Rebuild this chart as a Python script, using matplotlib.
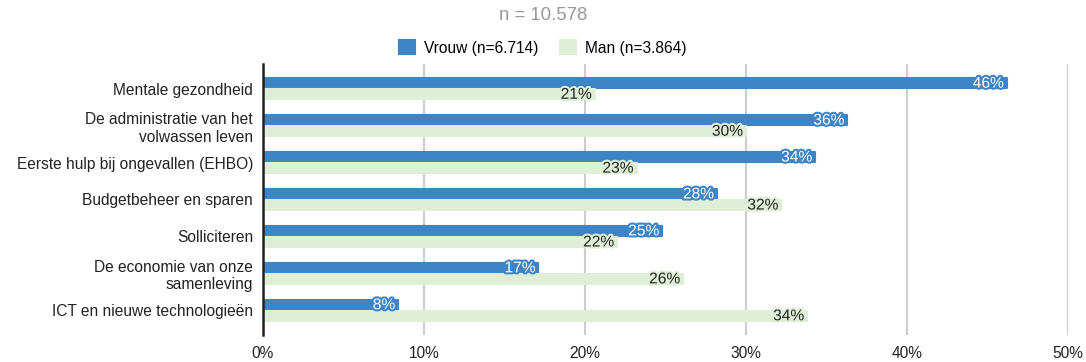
import matplotlib.pyplot as plt
import matplotlib.patheffects as pe
import numpy as np

plt.rcParams['font.family'] = ['Liberation Sans', 'DejaVu Sans']

categories = ['Mentale gezondheid', 'De administratie van het\nvolwassen leven',
              'Eerste hulp bij ongevallen (EHBO)', 'Budgetbeheer en sparen',
              'Solliciteren', 'De economie van onze\nsamenleving', 'ICT en nieuwe technologieën']
vrouw = [46.2, 36.3, 34.3, 28.2, 24.8, 17.1, 8.4]
man = [20.6, 30.0, 23.2, 32.2, 22.0, 26.1, 33.8]
vrouw_lbl = ['46%', '36%', '34%', '28%', '25%', '17%', '8%']
man_lbl = ['21%', '30%', '23%', '32%', '22%', '26%', '34%']
xticks = [0, 10, 20, 30, 40, 50]

blue = '#3d85c6'
green = '#dfeed6'
fs = 11.2

fig = plt.figure(figsize=(10.86, 3.62), dpi=100)
ax = fig.add_axes([263/1086, 1-335/362, (1068-263)/1086, (335-64)/362])

y = np.arange(len(categories))
h = 0.26
ax.barh(y - 0.15, vrouw, height=h, color=blue, edgecolor=blue, linewidth=1.5,
        joinstyle='round', label='Vrouw (n=6.714)', zorder=3)
ax.barh(y + 0.15, man, height=h, color=green, edgecolor=green, linewidth=1.5,
        joinstyle='round', label='Man (n=3.864)', zorder=3)

for i in range(len(categories)):
    ax.text(vrouw[i] - 0.2, y[i] - 0.15, vrouw_lbl[i], ha='right', va='center',
            fontsize=fs, color='white', zorder=4,
            path_effects=[pe.withStroke(linewidth=3, foreground=blue)])
    ax.text(man[i] - 0.2, y[i] + 0.15, man_lbl[i], ha='right', va='center',
            fontsize=fs, color='#222222', zorder=4,
            path_effects=[pe.withStroke(linewidth=3, foreground=green)])

ax.set_xlim(0, 50)
ax.set_ylim(6.67, -0.67)
ax.set_yticks(y)
ax.set_yticklabels(categories, fontsize=fs, color='#222222')
ax.set_xticks(xticks)
ax.set_xticklabels([f'{t}%' for t in xticks], fontsize=fs, color='#222222')
ax.tick_params(axis='both', length=0)
ax.tick_params(axis='y', pad=7.2)
ax.tick_params(axis='x', pad=8)
ax.grid(axis='x', color='#cccccc', linewidth=1.5, zorder=0)
for s in ['top', 'right', 'bottom']:
    ax.spines[s].set_visible(False)
ax.spines['left'].set_color('#222222')
ax.spines['left'].set_linewidth(1.8)
ax.spines['left'].set_zorder(5)

fig.text(543/1086, 1-15/362, 'n = 10.578', ha='center', va='center', fontsize=13.4, color='#999999')
fig.legend(loc='center', bbox_to_anchor=(543/1086, 1-48/362), ncol=2, frameon=False,
           fontsize=fs, handlelength=1.0, handleheight=1.0, columnspacing=1.4, handletextpad=0.6)

fig.savefig('out.png', dpi=100)
